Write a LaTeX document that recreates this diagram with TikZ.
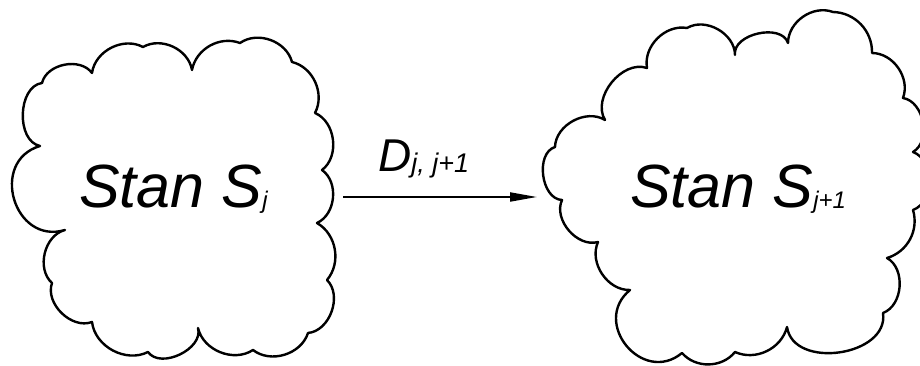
\documentclass[tikz,border=0pt]{standalone}
\usepackage{fontspec}
\setmainfont{Liberation Sans}
\usepackage{graphicx}
\usetikzlibrary{arrows.meta,positioning}
\tikzset{
	x=1pt, y=1pt,% one unit is one pixel of the picture
	cloud line/.style={line width=2.4pt, line join=round},
	puff/.style={bend left=#1}, puff/.default=55,% a single bulge of the cloud outline
	big puff/.style={bend left=90, looseness=#1},
	state text/.style={inner sep=0pt, anchor=base west, font=\fontsize{61}{64}\selectfont\itshape},
	label text/.style={inner sep=0pt, anchor=base west, font=\fontsize{46}{50}\selectfont\itshape},
	trans/.style={line width=2pt, -{Triangle[length=27pt,width=9pt]}}
}
\newcommand{\stsub}[2][24]{\raisebox{-1pt}{\fontsize{#1}{#1}\selectfont #2}}

\begin{document}
\begin{tikzpicture}
	\useasboundingbox (0,0) rectangle (920,366);
	\clip (0,0) rectangle (920,366);
	% left cloud
	\draw[cloud line] (92,293) to[puff] (143,319) to[puff] (192,296) to[puff=50] (240,323)
		to[puff] (292,304) to[puff=52] (315,253) to[puff=60] (322,196) to[puff=60] (317,143)
		to[puff=50] (327,86) to[puff=65] (308,33) to[puff] (253,16) to[puff] (198,38)
		to[puff=80] (148,14) to[puff] (92,44) to[puff=65] (52,83) to[puff=62] (65,136)
		to[big puff=1.56] (40,220) to[puff=80] (42,283) to[puff=65] (92,293) -- cycle;
	% right cloud
	\draw[cloud line] (647,298) to[puff] (687,338) to[puff=60] (735,311) to[puff=85] (788,323)
		to[puff] (833,354) to[puff=45] (872,313) to[puff] (903,268) to[puff=70] (913,214)
		to[puff=70] (913,156) to[puff=45] (887,108) to[puff=65] (883,53)
		to[big puff=1.15] (787,39) to[puff=50] (735,14) to[puff=50] (682,13)
		to[big puff=1.6] (630,76) to[puff=58] (598,124) to[puff=65] (562,166)
		to[puff=80] (555,219) to[puff=60] (605,246) to[puff=70] (647,298) -- cycle;
	\node[state text] (s_j) at (79,158) {Stan S\stsub{j}};
	\node[state text] (s_j1) at (630,158) {Stan S\stsub{j+1}};
	\coordinate (out) at (343,169);
	\coordinate (in) at (537,169);
	\node[label text] (d_j) at (378,194) {D\stsub[27]{j, j+1}};
	\draw[trans] (out) -- (in);
\end{tikzpicture}
\end{document}
